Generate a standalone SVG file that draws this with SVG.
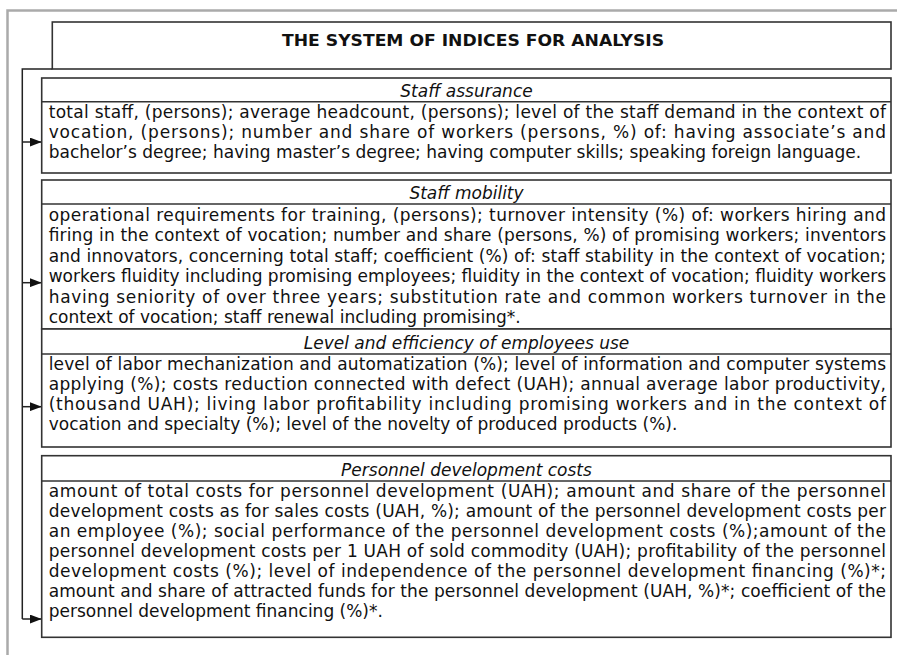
<svg xmlns="http://www.w3.org/2000/svg" width="897" height="655" viewBox="0 0 897 655">
<style>
.bg{fill:#ffffff}
.frame{fill:none;stroke:#aaaaaa;stroke-width:2.5}
.box{fill:#ffffff;stroke:#333333;stroke-width:1.6}
.sep{stroke:#333333;stroke-width:1.5}
.conn{fill:none;stroke:#222222;stroke-width:1.5}
.title{font-family:"DejaVu Sans","Liberation Sans",sans-serif;font-size:16px;font-weight:bold;fill:#111111}
.head{font-family:"DejaVu Sans","Liberation Sans",sans-serif;font-size:17px;font-style:italic;fill:#111111;text-anchor:middle}
.body{font-family:"DejaVu Sans","Liberation Sans",sans-serif;font-size:17px;fill:#111111}
</style>
<defs>
<marker id="ah" viewBox="0 0 12 9" refX="12" refY="4.5" markerWidth="12" markerHeight="9" orient="auto" markerUnits="userSpaceOnUse">
<path d="M0,0 L12,4.5 L0,9 z" fill="#111111"/>
</marker>
</defs>
<rect class="bg" x="0" y="0" width="897" height="655"/>
<path class="frame" d="M7.5,655 V10.5 H897"/>

<g id="title">
<rect class="box" x="52.3" y="22" width="838.7" height="47"/>
<text class="title" x="282" y="45.5" textLength="382" lengthAdjust="spacingAndGlyphs">THE SYSTEM OF INDICES FOR ANALYSIS</text>
</g>

<g id="connectors">
<path class="conn" d="M52.3,69 H22.3 V619"/>
<path class="conn" d="M22.3,142 H41.7" marker-end="url(#ah)"/>
<path class="conn" d="M22.3,282.7 H41.7" marker-end="url(#ah)"/>
<path class="conn" d="M22.3,406.7 H41.7" marker-end="url(#ah)"/>
<path class="conn" d="M22.3,619 H41.7" marker-end="url(#ah)"/>
</g>

<g id="staff-assurance">
<rect class="box" x="41.7" y="78" width="849.3" height="95"/>
<line class="sep" x1="41.7" y1="101.7" x2="891" y2="101.7"/>
<text class="head" x="466.5" y="96.5">Staff assurance</text>
<text class="body" x="48.7" y="117.5" textLength="837.3" lengthAdjust="spacing">total staff, (persons); average headcount, (persons); level of the staff demand in the context of</text>
<text class="body" x="48.7" y="137.5" textLength="837.3" lengthAdjust="spacing">vocation, (persons); number and share of workers (persons, %) of: having associate’s and</text>
<text class="body" x="48.7" y="157.5">bachelor’s degree; having master’s degree; having computer skills; speaking foreign language.</text>
</g>

<g id="staff-mobility">
<rect class="box" x="41.7" y="180" width="849.3" height="149"/>
<line class="sep" x1="41.7" y1="204" x2="891" y2="204"/>
<text class="head" x="466.5" y="199">Staff mobility</text>
<text class="body" x="48.7" y="220.5" textLength="837.3" lengthAdjust="spacing">operational requirements for training, (persons); turnover intensity (%) of: workers hiring and</text>
<text class="body" x="48.7" y="241" textLength="837.3" lengthAdjust="spacing">firing in the context of vocation; number and share (persons, %) of promising workers; inventors</text>
<text class="body" x="48.7" y="261.5" textLength="837.3" lengthAdjust="spacing">and innovators, concerning total staff; coefficient (%) of: staff stability in the context of vocation;</text>
<text class="body" x="48.7" y="282" textLength="837.3" lengthAdjust="spacing">workers fluidity including promising employees; fluidity in the context of vocation; fluidity workers</text>
<text class="body" x="48.7" y="302.5" textLength="837.3" lengthAdjust="spacing">having seniority of over three years; substitution rate and common workers turnover in the</text>
<text class="body" x="48.7" y="323">context of vocation; staff renewal including promising*.</text>
</g>

<g id="employees-use">
<rect class="box" x="41.7" y="329" width="849.3" height="118"/>
<line class="sep" x1="41.7" y1="354" x2="891" y2="354"/>
<text class="head" x="466.5" y="349">Level and efficiency of employees use</text>
<text class="body" x="48.7" y="370" textLength="837.3" lengthAdjust="spacing">level of labor mechanization and automatization (%); level of information and computer systems</text>
<text class="body" x="48.7" y="390" textLength="837.3" lengthAdjust="spacing">applying (%); costs reduction connected with defect (UAH); annual average labor productivity,</text>
<text class="body" x="48.7" y="410" textLength="837.3" lengthAdjust="spacing">(thousand UAH); living labor profitability including promising workers and in the context of</text>
<text class="body" x="48.7" y="430">vocation and specialty (%); level of the novelty of produced products (%).</text>
</g>

<g id="development-costs">
<rect class="box" x="41.7" y="455.7" width="849.3" height="181.6"/>
<line class="sep" x1="41.7" y1="481" x2="891" y2="481"/>
<text class="head" x="466.5" y="476">Personnel development costs</text>
<text class="body" x="48.7" y="496.5" textLength="837.3" lengthAdjust="spacing">amount of total costs for personnel development (UAH); amount and share of the personnel</text>
<text class="body" x="48.7" y="516.5" textLength="837.3" lengthAdjust="spacing">development costs as for sales costs (UAH, %); amount of the personnel development costs per</text>
<text class="body" x="48.7" y="536.5" textLength="837.3" lengthAdjust="spacing">an employee (%); social performance of the personnel development costs (%);amount of the</text>
<text class="body" x="48.7" y="556.5" textLength="837.3" lengthAdjust="spacing">personnel development costs per 1 UAH of sold commodity (UAH); profitability of the personnel</text>
<text class="body" x="48.7" y="576.5" textLength="837.3" lengthAdjust="spacing">development costs (%); level of independence of the personnel development financing (%)*;</text>
<text class="body" x="48.7" y="596.5" textLength="837.3" lengthAdjust="spacing">amount and share of attracted funds for the personnel development (UAH, %)*; coefficient of the</text>
<text class="body" x="48.7" y="617">personnel development financing (%)*.</text>
</g>
</svg>
